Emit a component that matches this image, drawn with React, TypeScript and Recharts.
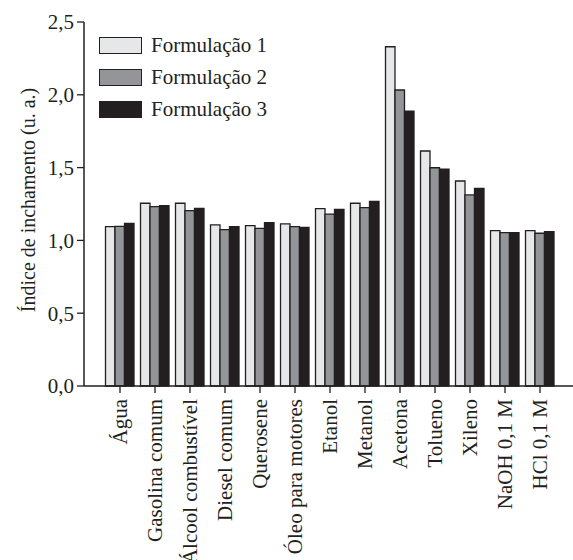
import React from 'react';
import { BarChart, Bar, XAxis, YAxis, Legend } from 'recharts';

const CATEGORIES = [
  'Água', 'Gasolina comum', 'Álcool combustível', 'Diesel comum', 'Querosene',
  'Óleo para motores', 'Etanol', 'Metanol', 'Acetona', 'Tolueno', 'Xileno',
  'NaOH 0,1 M', 'HCl 0,1 M',
];

const F1 = [1.094, 1.255, 1.255, 1.106, 1.101, 1.113, 1.218, 1.255, 2.330, 1.614, 1.408, 1.067, 1.067];
const F2 = [1.097, 1.232, 1.204, 1.074, 1.083, 1.094, 1.181, 1.225, 2.033, 1.499, 1.312, 1.053, 1.049];
const F3 = [1.117, 1.238, 1.220, 1.094, 1.122, 1.090, 1.213, 1.268, 1.887, 1.490, 1.358, 1.053, 1.060];

const Y_TICKS = [0, 0.5, 1, 1.5, 2, 2.5];
const Y_MINOR = [0.25, 0.75, 1.25, 1.75, 2.25];
const X_MINOR = [0.5, 1.5, 2.5, 3.5, 4.5, 5.5, 6.5, 7.5, 8.5, 9.5, 10.5, 11.5, 12.5, 13.5];
const TOP_TICKS = [1, 2, 3, 4, 5, 6, 7, 8, 9];

const SERIES = [
  { key: 'f1', name: 'Formulação 1', fill: '#e6e7e8' },
  { key: 'f2', name: 'Formulação 2', fill: '#939598' },
  { key: 'f3', name: 'Formulação 3', fill: '#231f20' },
];

const INK = '#231f20';
const FONT = '"Liberation Serif", "Times New Roman", serif';

const data = CATEGORIES.map((name, i) => ({ name, f1: F1[i], f2: F2[i], f3: F3[i] }));

const XTick = (props: any) => {
  const { x, y, payload } = props;
  const ty = y + 13;
  return (
    <g>
      <line x1={x} x2={x} y1={y} y2={y + 7} stroke={INK} strokeWidth={1.3} />
      <text
        x={x}
        y={ty}
        transform={`rotate(-90, ${x}, ${ty})`}
        textAnchor="end"
        dominantBaseline="central"
        fontSize={21}
        fontFamily={FONT}
        fill={INK}
      >
        {payload.value}
      </text>
    </g>
  );
};

const YLabel = (props: any) => {
  const { viewBox } = props;
  const cx = viewBox.x + 28;
  const cy = viewBox.y + viewBox.height / 2 - 4;
  return (
    <text
      x={cx}
      y={cy}
      transform={`rotate(-90, ${cx}, ${cy})`}
      textAnchor="middle"
      dominantBaseline="central"
      fontSize={20}
      fontFamily={FONT}
      fill={INK}
    >
      Índice de inchamento (u. a.)
    </text>
  );
};

const LegendBox = () => (
  <div style={{ fontFamily: FONT, fontSize: 21, color: INK }}>
    {SERIES.map((s) => (
      <div key={s.key} style={{ display: 'flex', alignItems: 'center', height: 32 }}>
        <span
          style={{
            display: 'inline-block',
            width: 41,
            height: 15,
            background: s.fill,
            border: `1.3px solid ${INK}`,
            marginRight: 9,
          }}
        />
        <span>{s.name}</span>
      </div>
    ))}
  </div>
);

export default function App() {
  return (
    <div style={{ position: 'absolute', left: 0, top: 0, width: 573, height: 560, overflow: 'hidden', background: '#fff' }}>
      <BarChart
        width={574}
        height={560}
        data={data}
        barGap={0}
        margin={{ top: 22, right: 0, bottom: 0, left: 0 }}
      >
        <XAxis
          xAxisId="minor"
          type="number"
          domain={[0, 14]}
          allowDataOverflow
          ticks={X_MINOR}
          height={0}
          axisLine={false}
          tick={false}
          tickSize={4}
          tickLine={{ stroke: INK, strokeWidth: 1.3 }}
        />
        <XAxis
          dataKey="name"
          type="category"
          interval={0}
          height={174}
          padding={{ left: 18.5, right: 16.5 }}
          tickSize={0}
          tickMargin={0}
          tickLine={false}
          axisLine={{ stroke: INK, strokeWidth: 1.5 }}
          tick={<XTick />}
        />
        <XAxis
          xAxisId="top"
          orientation="top"
          type="number"
          domain={[0, 10]}
          allowDataOverflow
          ticks={TOP_TICKS}
          height={0}
          tick={false}
          tickSize={2}
          tickLine={{ stroke: INK, strokeWidth: 1.3 }}
          axisLine={{ stroke: INK, strokeWidth: 1.5 }}
        />
        <YAxis
          yAxisId="minor"
          type="number"
          domain={[0, 2.5]}
          allowDataOverflow
          ticks={Y_MINOR}
          width={0}
          axisLine={false}
          tick={false}
          tickSize={3}
          tickLine={{ stroke: INK, strokeWidth: 1.3 }}
        />
        <YAxis
          type="number"
          domain={[0, 2.5]}
          ticks={Y_TICKS}
          width={84}
          tickSize={7}
          tickMargin={3}
          tickFormatter={(v: number) => v.toFixed(1).replace('.', ',')}
          tick={{ fill: INK, fontSize: 21, fontFamily: FONT }}
          tickLine={{ stroke: INK, strokeWidth: 1.3 }}
          axisLine={{ stroke: INK, strokeWidth: 1.5 }}
          label={<YLabel />}
        />
        <Legend
          layout="vertical"
          align="center"
          verticalAlign="middle"
          wrapperStyle={{ left: 99, top: 29.5, width: 'auto' }}
          content={<LegendBox />}
        />
        {SERIES.map((s) => (
          <Bar
            key={s.key}
            dataKey={s.key}
            name={s.name}
            fill={s.fill}
            stroke={INK}
            strokeWidth={1.3}
            barSize={9.5}
            isAnimationActive={false}
          />
        ))}
      </BarChart>
    </div>
  );
}
